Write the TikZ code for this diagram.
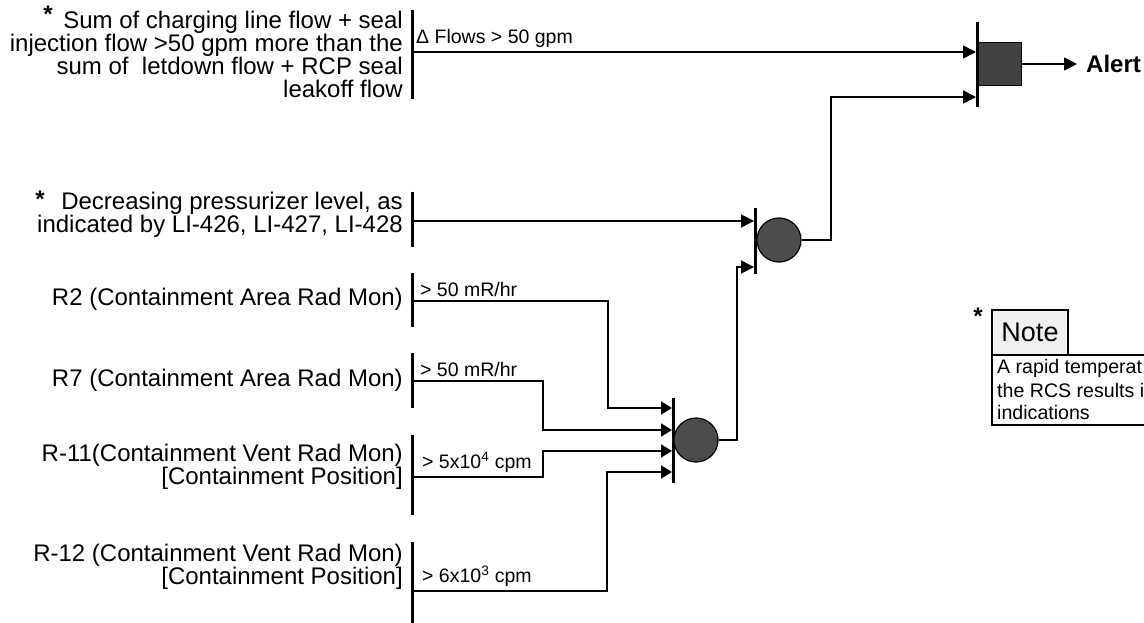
\documentclass[tikz,border=0pt]{standalone}
\usepackage{fontspec}
\setmainfont{Liberation Sans}
\usetikzlibrary{arrows.meta}
\begin{document}
\begin{tikzpicture}[x=1pt,y=-1pt,
  intext/.style={anchor=east,align=right,font=\fontsize{24}{23}\selectfont,inner sep=0pt},
  lbl/.style={anchor=south west,font=\fontsize{19.5}{21}\selectfont,inner sep=0pt},
  startxt/.style={font=\bfseries\fontsize{24}{24}\selectfont,inner sep=0pt},
  bar/.style={line width=3pt},
  wire/.style={line width=1.6pt},
  arr/.style={wire,-{Triangle[length=13pt,width=13pt]}},
  sarr/.style={wire,-{Triangle[length=11pt,width=13pt]}},
  orgate/.style={circle,minimum size=44pt,inner sep=0pt,fill=black!70,draw=black,line width=1.2pt},
  andgate/.style={rectangle,minimum width=43pt,minimum height=43pt,inner sep=0pt,fill=black!74,draw=black,line width=1.2pt},
  notetxt/.style={anchor=west,font=\fontsize{19.6}{22}\selectfont,inner sep=0pt}
]
\useasboundingbox (0,0) rectangle (1144,623);
\clip (0,0) rectangle (1144,623);
\fill[white] (0,0) rectangle (1144,623);

% ---------- input texts ----------
\node[intext] (t1) at (403,54) {Sum of charging line flow + seal\\injection flow >50 gpm more than the\\sum of\ \ letdown flow + RCP seal\\leakoff flow};
\node[startxt] (s1) at (48,14) {*};
\node[intext] (t2) at (403,215) {Decreasing pressurizer level, as\\indicated by LI-426, LI-427, LI-428};
\node[startxt] (s2) at (40,199) {*};
\node[intext] (t3) at (403,299) {R2 (Containment Area Rad Mon)};
\node[intext] (t4) at (403,380) {R7 (Containment Area Rad Mon)};
\node[intext] (t5) at (403,467) {R-11(Containment Vent Rad Mon)\\{}[Containment Position]};
\node[intext] (t6) at (403,567) {R-12 (Containment Vent Rad Mon)\\{}[Containment Position]};

% ---------- input bars ----------
\draw[bar] (412,10) -- (412,99);
\draw[bar] (412,192) -- (412,247);
\draw[bar] (412,273) -- (412,327);
\draw[bar] (412,353) -- (412,408);
\draw[bar] (412,435) -- (412,515);
\draw[bar] (412,542) -- (412,623);

\coordinate (i1) at (412,52);
\coordinate (i2) at (412,221);
\coordinate (i3) at (412,301);
\coordinate (i4) at (412,381);
\coordinate (i5) at (412,477);
\coordinate (i6) at (412,591);

% ---------- labels on wires ----------
\node[lbl] (l1) at (416,48) {Δ Flows > 50 gpm};
\node[lbl] (l3) at (420,297) {> 50 mR/hr};
\node[lbl] (l4) at (420,377) {> 50 mR/hr};
\node[lbl] (l5) at (422,473) {> 5x10\textsuperscript{4} cpm};
\node[lbl] (l6) at (422,587) {> 6x10\textsuperscript{3} cpm};

% ---------- gate 3 (lower OR) ----------
\draw[bar] (673,398) -- (673,483);
\node[orgate] (g3) at (696,440) {};
\coordinate (g3a) at (672,408);
\coordinate (g3b) at (672,430);
\coordinate (g3c) at (672,451);
\coordinate (g3d) at (672,472);
\draw[sarr] (i3) -- (608,301) -- (608,408) -- (g3a);
\draw[sarr] (i4) -- (543,381) -- (543,430) -- (g3b);
\draw[sarr] (i5) -- (543,477) -- (543,451) -- (g3c);
\draw[sarr] (i6) -- (607,591) -- (607,472) -- (g3d);

% ---------- gate 2 (upper OR) ----------
\draw[bar] (755,208) -- (755,274);
\node[orgate] (g2) at (779,240) {};
\coordinate (g2a) at (754,221);
\coordinate (g2b) at (754,267);
\draw[arr] (i2) -- (g2a);
\draw[arr] (g3.east) -- (737,440) -- (737,267) -- (g2b);

% ---------- top AND gate ----------
\draw[bar] (977,22) -- (977,107);
\node[andgate] (g1) at (1000,64) {};
\coordinate (g1a) at (976,52);
\coordinate (g1b) at (976,97);
\draw[arr] (i1) -- (g1a);
\draw[arr] (g2.east) -- (831,240) -- (831,97) -- (g1b);

\node[anchor=west,font=\bfseries\fontsize{24}{24}\selectfont,inner sep=0pt] (alert) at (1086,64) {Alert};
\draw[arr] (g1.east) -- ([xshift=-9pt]alert.west);

% ---------- note ----------
\node[startxt] (s3) at (978,316) {*};
\node[draw,line width=1.4pt,fill=black!6,minimum width=76pt,minimum height=45pt,inner sep=0pt,
      font=\fontsize{27}{27}\selectfont] (note) at (1030,332.5) {Note};
\draw[line width=1.4pt] (992,355) rectangle (1160,425);
\node[notetxt] (n1) at (997,368) {A rapid temperat};
\node[notetxt] (n2) at (997,390) {the RCS results i};
\node[notetxt] (n3) at (997,412) {indications};
\end{tikzpicture}
\end{document}
